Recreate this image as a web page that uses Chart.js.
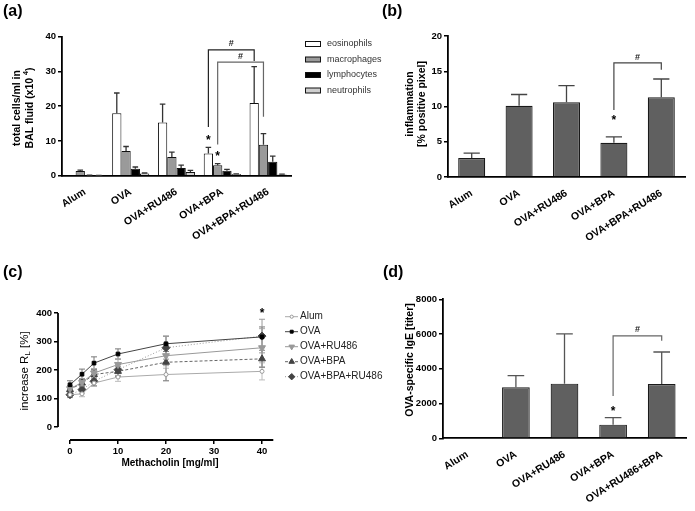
<!DOCTYPE html>
<html>
<head>
<meta charset="utf-8">
<script src="https://cdn.jsdelivr.net/npm/chart.js@4.4.0/dist/chart.umd.min.js"></script>
<style>
  body { margin: 0; background: #fff; }
  #wrap { position: relative; width: 695px; height: 511px; overflow: hidden; }
  canvas { position: absolute; }
</style>
</head>
<body>
<div id="wrap">
  <canvas id="chartA" width="395" height="260" style="left:0;top:0"></canvas>
  <canvas id="chartB" width="335" height="260" style="left:360px;top:0"></canvas>
  <canvas id="chartC" width="400" height="251" style="left:0;top:260px"></canvas>
  <canvas id="chartD" width="335" height="251" style="left:360px;top:260px"></canvas>
</div>
<script>
// ---- data ----
const groups = ['Alum', 'OVA', 'OVA+RU486', 'OVA+BPA', 'OVA+BPA+RU486'];
const groupsD = ['Alum', 'OVA', 'OVA+RU486', 'OVA+BPA', 'OVA+RU486+BPA'];

// (a) BAL cells, x10^4 per ml
const eosinophils    = [0, 18.0, 15.3, 6.4, 20.9];
const eosinophilsErr = [0, 5.8, 5.3, 1.75, 10.5];
const macrophages    = [1.35, 7.1, 5.4, 3.0, 8.9];
const macrophagesErr = [0.25, 1.3, 1.4, 0.45, 3.2];
const lymphocytes    = [0.1, 2.0, 2.2, 1.45, 4.0];
const lymphocytesErr = [0.05, 0.5, 0.85, 0.35, 1.65];
const neutrophils    = [0.05, 0.6, 1.05, 0.48, 0.38];
const neutrophilsErr = [0.03, 0.17, 0.48, 0.07, 0.07];

// (b) inflammation, % positive pixel
const inflammation    = [2.7, 10.1, 10.6, 4.85, 11.3];
const inflammationErr = [0.7, 1.6, 2.35, 0.85, 2.6];

// (c) lung resistance vs methacholin
const doses      = [0, 2.5, 5, 10, 20, 40];
const alumRL     = [113, 116, 154, 175, 184, 195];
const alumRLErr  = [10, 10, 12, 15, 22, 30];
const ovaRL      = [148, 185, 224, 256, 292, 316];
const ovaRLErr   = [14, 18, 22, 18, 27, 35];
const ru486RL    = [134, 156, 189, 219, 250, 278];
const ru486RLErr = [12, 14, 16, 20, 35, 67];
const bpaRL      = [131, 154, 184, 195, 227, 239];
const bpaRLErr   = [12, 14, 15, 18, 65, 30];
const bpaRuRL    = [113, 131, 160, 201, 278, 319];
const bpaRuRLErr = [10, 12, 15, 20, 40, 59];
const xTicksC = [0, 10, 20, 30, 40];
const yTicksC = [0, 100, 200, 300, 400];

// (d) OVA-specific IgE titer
const ige    = [0, 2935, 3146, 786, 3127];
const igeErr = [0, 670, 2860, 400, 1840];

// significance marks: group index, dataset index, value levels
const bracketsA = [
  { from: 3, to: 4, ds: 0, left: 14, top: 36.2, right: 33, mark: 37.9, color: '#222' },
  { from: 3, to: 4, ds: 1, left: 9, top: 32.7, right: 17, mark: 34.4, color: '#666' }
];
const starsA = [{ idx: 3, ds: 0, v: 11.0 }, { idx: 3, ds: 1, v: 6.3 }];
const bracketsB = [{ from: 3, to: 4, ds: 0, left: 9.5, top: 16.2, right: 15.2, mark: 17.0, color: '#444' }];
const starsB = [{ idx: 3, ds: 0, v: 8.4 }];
const bracketsD = [{ from: 3, to: 4, ds: 0, left: 2430, top: 5890, right: 5610, mark: 6280, color: '#666' }];
const starsD = [{ idx: 3, ds: 0, v: 1690 }];
const starC = { x: 40, v: 407 };

// ---- helpers ----
const FONT = '"Liberation Sans", Arial, Helvetica, sans-serif';
const tickFont = { family: FONT, size: 9.5, weight: 'bold' };
const catFont = { family: FONT, size: 10.5, weight: 'bold' };

function text(ctx, str, x, y, font, align, base, color) {
  ctx.save();
  ctx.font = font;
  ctx.fillStyle = color || '#000';
  ctx.textAlign = align || 'left';
  ctx.textBaseline = base || 'alphabetic';
  ctx.fillText(str, x, y);
  ctx.restore();
}

// vertical title, parts = [[text, font, dy]]
function vTitle(ctx, cx, cy, parts) {
  ctx.save();
  ctx.translate(cx, cy);
  ctx.rotate(-Math.PI / 2);
  ctx.fillStyle = '#000';
  ctx.textBaseline = 'middle';
  ctx.textAlign = 'left';
  let total = 0;
  parts.forEach(p => { ctx.font = p[1]; total += ctx.measureText(p[0]).width; });
  let x = -total / 2;
  parts.forEach(p => {
    ctx.font = p[1];
    ctx.fillText(p[0], x, p[2] || 0);
    x += ctx.measureText(p[0]).width;
  });
  ctx.restore();
}

function star(ctx, x, y) {
  text(ctx, '*', x, y + 3, 'bold 12px ' + FONT, 'center', 'middle');
}

function drawBrackets(chart, list) {
  const ctx = chart.ctx, ys = chart.scales.y;
  list.forEach(b => {
    const x1 = chart.getDatasetMeta(b.ds).data[b.from].x;
    const x2 = chart.getDatasetMeta(b.ds).data[b.to].x;
    const yt = ys.getPixelForValue(b.top);
    ctx.save();
    ctx.strokeStyle = b.color;
    ctx.lineWidth = 1.2;
    ctx.beginPath();
    ctx.moveTo(x1, ys.getPixelForValue(b.left));
    ctx.lineTo(x1, yt);
    ctx.lineTo(x2, yt);
    ctx.lineTo(x2, ys.getPixelForValue(b.right));
    ctx.stroke();
    ctx.restore();
    text(ctx, '#', (x1 + x2) / 2, ys.getPixelForValue(b.mark), 'bold 9px ' + FONT, 'center', 'middle', '#222');
  });
}

function drawStars(chart, list) {
  list.forEach(s => {
    const x = chart.getDatasetMeta(s.ds).data[s.idx].x;
    star(chart.ctx, x, chart.scales.y.getPixelForValue(s.v));
  });
}

const errorBars = {
  id: 'errorBars',
  beforeDatasetsDraw(chart) { if (chart.config.type === 'line') this.draw(chart); },
  afterDatasetsDraw(chart) { if (chart.config.type === 'bar') this.draw(chart); },
  draw(chart) {
    const ctx = chart.ctx, ys = chart.scales.y;
    const both = chart.config.type === 'line';
    chart.data.datasets.forEach((ds, di) => {
      if (!ds.errors) return;
      chart.getDatasetMeta(di).data.forEach((el, i) => {
        const e = ds.errors[i];
        if (!e) return;
        const d = ds.data[i];
        const v = typeof d === 'object' ? d.y : d;
        const top = ys.getPixelForValue(v + e);
        const bot = both ? ys.getPixelForValue(v - e) : el.y;
        const cap = both ? 3 : el.width * 0.3;
        ctx.save();
        ctx.strokeStyle = ds.errorColor || '#333';
        ctx.lineWidth = both ? 1 : 1.3;
        ctx.beginPath();
        ctx.moveTo(el.x, bot);
        ctx.lineTo(el.x, top);
        ctx.moveTo(el.x - cap, top);
        ctx.lineTo(el.x + cap, top);
        if (both) {
          ctx.moveTo(el.x - cap, bot);
          ctx.lineTo(el.x + cap, bot);
        }
        ctx.stroke();
        ctx.restore();
      });
    });
  }
};

function yAxis(max, step, width) {
  return {
    min: 0, max: max,
    afterFit: s => { s.width = width; },
    ticks: { stepSize: step, color: '#000', font: tickFont, padding: 2, callback: v => String(v) },
    grid: { drawOnChartArea: false, color: '#000', lineWidth: 1.5, tickLength: 4 },
    border: { color: '#000', width: 1.8 }
  };
}

function catAxis(height) {
  return {
    afterFit: s => { s.height = height; },
    ticks: { color: '#000', font: catFont, minRotation: 32, maxRotation: 32, autoSkip: false, padding: 10 },
    grid: { display: true, drawOnChartArea: false, drawTicks: false },
    border: { color: '#000', width: 1.8 }
  };
}

const base = {
  responsive: false,
  animation: false,
  events: [],
  plugins: { legend: { display: false }, tooltip: { enabled: false } }
};

// ---- (a) ----
new Chart(document.getElementById('chartA'), {
  type: 'bar',
  data: {
    labels: groups,
    datasets: [
      { label: 'eosinophils', data: eosinophils, errors: eosinophilsErr, backgroundColor: '#fff' },
      { label: 'macrophages', data: macrophages, errors: macrophagesErr, backgroundColor: '#9a9a9a' },
      { label: 'lymphocytes', data: lymphocytes, errors: lymphocytesErr, backgroundColor: '#000' },
      { label: 'neutrophils', data: neutrophils, errors: neutrophilsErr, backgroundColor: '#cfcfcf' }
    ]
  },
  options: Object.assign({}, base, {
    layout: { padding: { left: 0, top: 36.7, right: 104, bottom: 0 } },
    datasets: { bar: { borderColor: '#111', borderWidth: 1, categoryPercentage: 0.81, barPercentage: 1 } },
    scales: { x: catAxis(84.3), y: yAxis(40, 10, 62) }
  }),
  plugins: [errorBars, {
    id: 'decorA',
    afterDraw(chart) {
      const ctx = chart.ctx;
      text(ctx, '(a)', 3, 16, 'bold 16px ' + FONT);
      const f = 'bold 10.5px ' + FONT;
      vTitle(ctx, 17.5, 108, [['total cells/ml in', f]]);
      vTitle(ctx, 30, 108, [['BAL fluid (x10 ', f], ['4', 'bold 7px ' + FONT, -4], [')', f]]);
      chart.data.datasets.forEach((ds, i) => {
        const y = 44 + i * 15.5;
        ctx.save();
        ctx.fillStyle = ds.backgroundColor;
        ctx.strokeStyle = '#111';
        ctx.lineWidth = 1;
        ctx.fillRect(305, y - 2.5, 16, 5);
        ctx.strokeRect(305.5, y - 2.5, 15, 5);
        ctx.restore();
        text(ctx, ds.label, 327, y, '9px ' + FONT, 'left', 'middle', '#333');
      });
      drawBrackets(chart, bracketsA);
      drawStars(chart, starsA);
    }
  }]
});

// ---- (b) ----
new Chart(document.getElementById('chartB'), {
  type: 'bar',
  data: {
    labels: groups,
    datasets: [{ label: 'inflammation', data: inflammation, errors: inflammationErr,
      backgroundColor: '#606060', errorColor: '#444' }]
  },
  options: Object.assign({}, base, {
    layout: { padding: { left: 0, top: 36, right: 10, bottom: 0 } },
    datasets: { bar: { borderColor: '#1a1a1a', borderWidth: 1.2, categoryPercentage: 1, barPercentage: 0.57 } },
    scales: { x: catAxis(83), y: yAxis(20, 5, 88) }
  }),
  plugins: [errorBars, {
    id: 'decorB',
    afterDraw(chart) {
      const ctx = chart.ctx;
      text(ctx, '(b)', 22, 16, 'bold 16px ' + FONT);
      const f = 'bold 10.5px ' + FONT;
      vTitle(ctx, 50, 104, [['inflammation', f]]);
      vTitle(ctx, 62, 104, [['[% positive pixel]', f]]);
      drawBrackets(chart, bracketsB);
      drawStars(chart, starsB);
    }
  }]
});

// ---- (c) ----
function series(vals) { return doses.map((x, i) => ({ x: x, y: vals[i] })); }

new Chart(document.getElementById('chartC'), {
  type: 'line',
  data: {
    datasets: [
      { label: 'Alum', data: series(alumRL), errors: alumRLErr, borderColor: '#aaa', errorColor: '#bbb',
        pointStyle: 'circle', pointRadius: 2, pointBackgroundColor: '#fff', pointBorderColor: '#999' },
      { label: 'OVA', data: series(ovaRL), errors: ovaRLErr, borderColor: '#444', errorColor: '#777',
        pointStyle: 'rect', pointRadius: 2.6, pointBackgroundColor: '#000', pointBorderColor: '#000' },
      { label: 'OVA+RU486', data: series(ru486RL), errors: ru486RLErr, borderColor: '#999', errorColor: '#aaa',
        pointStyle: 'triangle', pointRotation: 180, pointRadius: 4, pointBackgroundColor: '#999', pointBorderColor: '#999' },
      { label: 'OVA+BPA', data: series(bpaRL), errors: bpaRLErr, borderColor: '#666', borderDash: [3, 2], errorColor: '#888',
        pointStyle: 'triangle', pointRadius: 4, pointBackgroundColor: '#444', pointBorderColor: '#444' },
      { label: 'OVA+BPA+RU486', data: series(bpaRuRL), errors: bpaRuRLErr, borderColor: '#999', borderDash: [1, 2], errorColor: '#999',
        pointStyle: 'rectRot', pointRadius: 4, pointBackgroundColor: '#444', pointBorderColor: '#444' }
    ]
  },
  options: Object.assign({}, base, {
    layout: { padding: { left: 0, top: 53, right: 126.7, bottom: 0 } },
    datasets: { line: { borderWidth: 1, tension: 0, fill: false, pointBorderWidth: 1 } },
    scales: {
      x: {
        type: 'linear', min: -2.5, max: 42.35,
        afterBuildTicks: s => { s.ticks = xTicksC.map(v => ({ value: v })); },
        afterFit: s => { s.height = 71; },
        ticks: { color: '#000', font: tickFont, padding: 2, maxRotation: 0 },
        grid: { drawOnChartArea: false, color: '#000', lineWidth: 1.5, tickLength: 4 },
        border: { display: false }
      },
      y: {
        min: -46, max: 400,
        afterBuildTicks: s => { s.ticks = yTicksC.map(v => ({ value: v })); },
        afterFit: s => { s.width = 58; },
        ticks: { color: '#000', font: tickFont, padding: 2 },
        grid: { drawOnChartArea: false, color: '#000', lineWidth: 1.5, tickLength: 4 },
        border: { display: false }
      }
    }
  }),
  plugins: [errorBars, {
    id: 'decorC',
    afterDraw(chart) {
      const ctx = chart.ctx, xs = chart.scales.x, ys = chart.scales.y, area = chart.chartArea;
      ctx.save();
      ctx.strokeStyle = '#000';
      ctx.lineWidth = 1.8;
      ctx.beginPath();
      ctx.moveTo(area.left, ys.getPixelForValue(0));
      ctx.lineTo(area.left, ys.getPixelForValue(400));
      ctx.moveTo(xs.getPixelForValue(0), area.bottom);
      ctx.lineTo(area.right, area.bottom);
      ctx.stroke();
      ctx.restore();
      text(ctx, '(c)', 3, 17, 'bold 16px ' + FONT);
      const f = '11.5px ' + FONT;
      vTitle(ctx, 25, 111, [['increase R', f], ['L', '8px ' + FONT, 3], [' [%]', f]]);
      text(ctx, 'Methacholin [mg/ml]', 170, 203, 'bold 10px ' + FONT, 'center', 'middle');
      star(ctx, xs.getPixelForValue(starC.x), ys.getPixelForValue(starC.v));
      // legend
      chart.data.datasets.forEach((ds, i) => {
        const y = 56.7 + i * 15;
        ctx.save();
        ctx.strokeStyle = ds.borderColor;
        ctx.lineWidth = 1;
        ctx.setLineDash(ds.borderDash || []);
        ctx.beginPath();
        ctx.moveTo(285, y);
        ctx.lineTo(298, y);
        ctx.stroke();
        ctx.setLineDash([]);
        ctx.fillStyle = ds.pointBackgroundColor;
        ctx.strokeStyle = ds.pointBorderColor;
        Chart.helpers.drawPoint(ctx, { pointStyle: ds.pointStyle, rotation: ds.pointRotation || 0,
          radius: ds.pointRadius * 0.8, borderWidth: 1 }, 291.7, y);
        ctx.restore();
        text(ctx, ds.label, 300, y, '10px ' + FONT, 'left', 'middle', '#222');
      });
    }
  }]
});

// ---- (d) ----
new Chart(document.getElementById('chartD'), {
  type: 'bar',
  data: {
    labels: groupsD,
    datasets: [{ label: 'IgE', data: ige, errors: igeErr, backgroundColor: '#606060', errorColor: '#555' }]
  },
  options: Object.assign({}, base, {
    layout: { padding: { left: 0, top: 39.3, right: 9, bottom: 0 } },
    datasets: { bar: { borderColor: '#1a1a1a', borderWidth: 1.2, categoryPercentage: 1, barPercentage: 0.57 } },
    scales: { x: catAxis(72.7), y: yAxis(8000, 2000, 83) }
  }),
  plugins: [errorBars, {
    id: 'decorD',
    afterDraw(chart) {
      const ctx = chart.ctx;
      text(ctx, '(d)', 23, 17, 'bold 16px ' + FONT);
      vTitle(ctx, 50, 100, [['OVA-specific IgE [titer]', 'bold 10.5px ' + FONT]]);
      drawBrackets(chart, bracketsD);
      drawStars(chart, starsD);
    }
  }]
});
</script>
</body>
</html>
